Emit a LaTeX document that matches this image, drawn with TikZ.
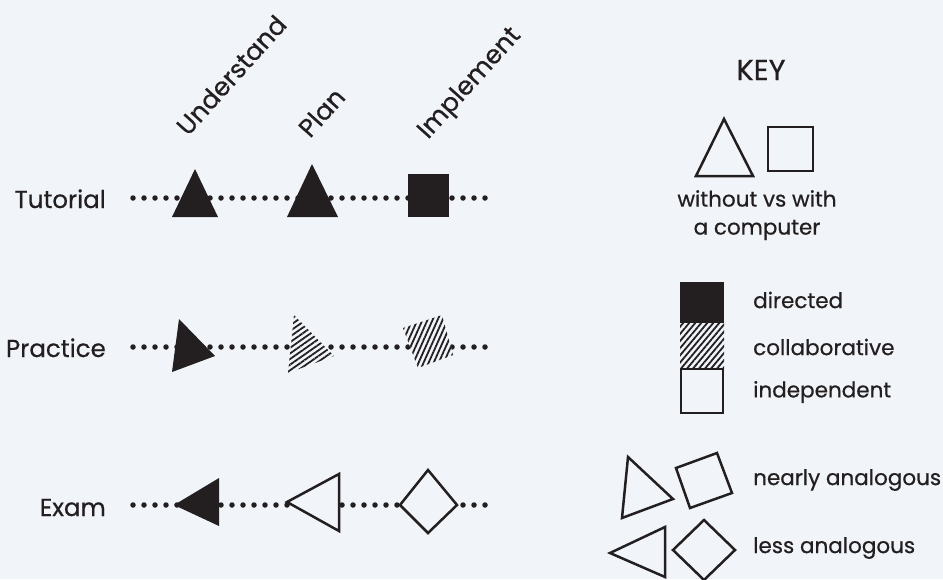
\documentclass[tikz,border=0pt]{standalone}
\usepackage{fontspec}
\setmainfont{Poppins}[FakeBold=0.6]
\usetikzlibrary{patterns.meta}
\definecolor{bgcol}{HTML}{F1F5F9}
\definecolor{ink}{HTML}{231F20}

\begin{document}
\begin{tikzpicture}[x=1pt,y=1pt,
	lbl/.style={font=\fontsize{24.5}{28}\selectfont, text=ink, inner sep=0pt},
	keytxt/.style={font=\fontsize{21.5}{28}\selectfont, text=ink, inner sep=0pt},
	dots/.style={ink, line width=5.5pt, line cap=round, dash pattern=on 0pt off 11pt},
	filled/.style={fill=ink},
	open/.style={draw=ink, line width=2.5pt, fill=bgcol, line join=miter},
	hatch/.style={pattern={Lines[angle=#1,distance=4.6pt,line width=1.8pt]}, pattern color=ink}]
	\fill [bgcol] (0,0) rectangle (943,-579);
	\useasboundingbox (0,0) rectangle (943,-579);
	% column heads
	\node [lbl, font=\fontsize{25.5}{28}\selectfont, rotate=48, anchor=base west] (understand) at (188,-137) {Understand};
	\node [lbl, font=\fontsize{25.5}{28}\selectfont, rotate=48, anchor=base west] (plan) at (310,-139) {Plan};
	\node [lbl, font=\fontsize{25.5}{28}\selectfont, rotate=48, anchor=base west] (implement) at (428,-140) {Implement};
	% rows
	\node [lbl, anchor=base east] (tutorial) at (106,-208) {Tutorial};
	\node [lbl, anchor=base east] (practice) at (106,-357) {Practice};
	\node [lbl, anchor=base east] (exam) at (106,-516) {Exam};
	\coordinate (tut-a) at (133,-198);
	\coordinate (tut-b) at (488,-198);
	\coordinate (pra-a) at (133,-347);
	\coordinate (pra-b) at (488,-347);
	\coordinate (exa-a) at (133,-505);
	\coordinate (exa-b) at (488,-505);
	\draw [dots] (tut-a) -- (tut-b);
	\draw [dots] (pra-a) -- (pra-b);
	\draw [dots] (exa-a) -- (exa-b);
	% tutorial
	\fill [filled] (172,-217) -- (218,-217) -- (195,-169) -- cycle;
	\fill [filled] (287,-217) -- (338,-217) -- (312,-164) -- cycle;
	\fill [filled] (408,-174) rectangle (449,-217);
	% practice
	\fill [filled] (172,-372) -- (179,-319) -- (215,-356) -- cycle;
	\fill [bgcol] (294,-315) -- (288,-373) -- (334,-356) -- cycle;
	\fill [hatch=35] (294,-315) -- (288,-373) -- (334,-356) -- cycle;
	\fill [bgcol] (403,-328) -- (442,-315) -- (453,-355) -- (418,-368) -- cycle;
	\fill [hatch=66] (403,-328) -- (442,-315) -- (453,-355) -- (418,-368) -- cycle;
	% exam
	\fill [filled] (174,-505) -- (219,-478) -- (219,-526) -- cycle;
	\draw [open] (287,-502) -- (339,-474) -- (339,-531) -- cycle;
	\draw [open] (400,-505) -- (428,-470) -- (457,-505) -- (428,-533) -- cycle;
	% key
	\node [lbl, font=\fontsize{29}{30}\selectfont] (key) at (761,-70) {KEY};
	\draw [open] (696,-176) -- (753,-176) -- (724,-119) -- cycle;
	\draw [open] (768,-127) rectangle (813,-171);
	\node [keytxt, align=center, anchor=north] (computer) at (757,-190) {without vs with\\a computer};
	\fill [filled] (680,-282) rectangle (724,-323);
	\fill [hatch=50] (680,-323) rectangle (724,-368);
	\draw [open] (681,-369) rectangle (723,-413);
	\node [keytxt, anchor=west] (directed) at (753,-300) {directed};
	\node [keytxt, anchor=west] (collab) at (753,-347) {collaborative};
	\node [keytxt, anchor=west] (indep) at (753,-392) {independent};
	\draw [open] (622,-518) -- (628,-457) -- (673,-499) -- cycle;
	\draw [open] (676,-468) -- (717,-453) -- (732,-493) -- (690,-508) -- cycle;
	\node [keytxt, anchor=west] (nearly) at (753,-480) {nearly analogous};
	\draw [open] (610,-553) -- (665,-527) -- (665,-577) -- cycle;
	\draw [open] (673,-550) -- (704,-520) -- (735,-550) -- (704,-580) -- cycle;
	\node [keytxt, anchor=west] (less) at (753,-548) {less analogous};
\end{tikzpicture}
\end{document}
